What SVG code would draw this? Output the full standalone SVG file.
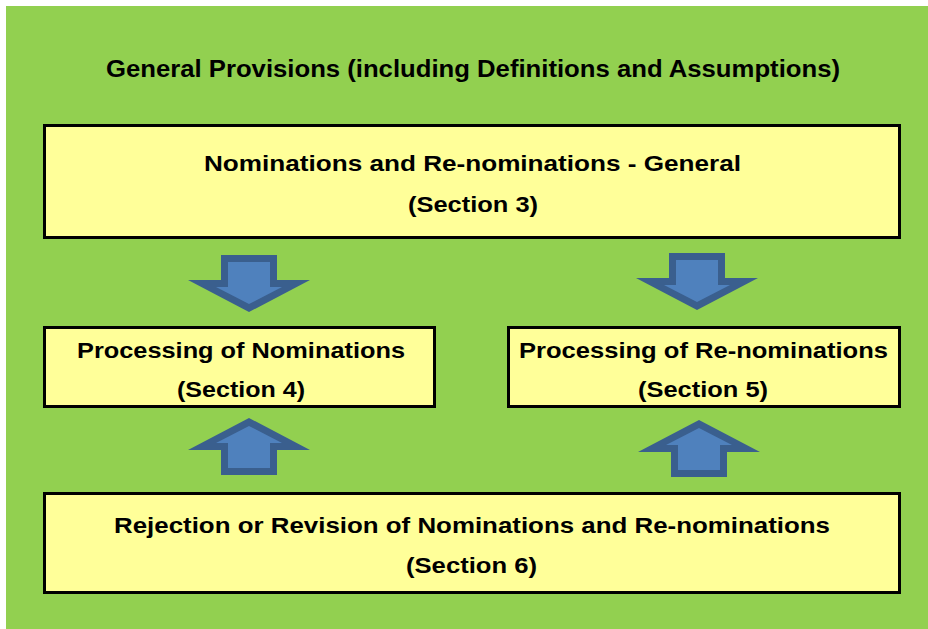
<svg xmlns="http://www.w3.org/2000/svg" width="928" height="629" viewBox="0 0 928 629">
<style>
.box{fill:#FFFF99;stroke:#000;stroke-width:3}
.t{font-family:"Liberation Sans",Arial,sans-serif;font-weight:bold;font-size:22px;fill:#000}
.ao{fill:#3A5F8E}
.ai{fill:#4F81BD}
</style>
<rect x="0" y="0" width="928" height="629" fill="#fff"/>
<rect x="6" y="6" width="922" height="623" fill="#92D050"/>
<text class="t" x="106" y="77" textLength="734" lengthAdjust="spacingAndGlyphs" style="font-size:23px">General Provisions (including Definitions and Assumptions)</text>
<g id="n3">
<rect class="box" x="44.5" y="125.5" width="855" height="112"/>
<text class="t" x="204" y="171" textLength="537" lengthAdjust="spacingAndGlyphs">Nominations and Re-nominations -  General</text>
<text class="t" x="408" y="212" textLength="130" lengthAdjust="spacingAndGlyphs">(Section 3)</text>
</g>
<g id="n4">
<rect class="box" x="44.5" y="327.5" width="390" height="79"/>
<text class="t" x="77" y="358" textLength="328" lengthAdjust="spacingAndGlyphs">Processing of Nominations</text>
<text class="t" x="177" y="397" textLength="128" lengthAdjust="spacingAndGlyphs">(Section 4)</text>
</g>
<g id="n5">
<rect class="box" x="508.5" y="327.5" width="391" height="79"/>
<text class="t" x="519" y="358" textLength="369" lengthAdjust="spacingAndGlyphs">Processing of Re-nominations</text>
<text class="t" x="638" y="397" textLength="130" lengthAdjust="spacingAndGlyphs">(Section 5)</text>
</g>
<g id="n6">
<rect class="box" x="44.5" y="493.5" width="855" height="99"/>
<text class="t" x="114" y="533" textLength="716" lengthAdjust="spacingAndGlyphs">Rejection or Revision of Nominations and Re-nominations</text>
<text class="t" x="406" y="573" textLength="131" lengthAdjust="spacingAndGlyphs">(Section 6)</text>
</g>
<g id="connectors">
<g id="a1">
<polygon class="ao" points="221,255 277,255 277,280 310,280 249,312 188,280 221,280"/>
<polygon class="ai" points="228,262 270,262 270,287 282,287 249,304 216,287 228,287"/>
</g>
<g id="a2">
<polygon class="ao" points="669,253 725,253 725,278 758,278 697,310 636,278 669,278"/>
<polygon class="ai" points="676,260 718,260 718,285 730,285 697,302 664,285 676,285"/>
</g>
<g id="a3">
<polygon class="ao" points="221,475 277,475 277,450 310,450 249,418 188,450 221,450"/>
<polygon class="ai" points="228,468 270,468 270,443 282,443 249,426 216,443 228,443"/>
</g>
<g id="a4">
<polygon class="ao" points="671,477 727,477 727,452 760,452 699,420 638,452 671,452"/>
<polygon class="ai" points="678,470 720,470 720,445 732,445 699,428 666,445 678,445"/>
</g>
</g>
</svg>
